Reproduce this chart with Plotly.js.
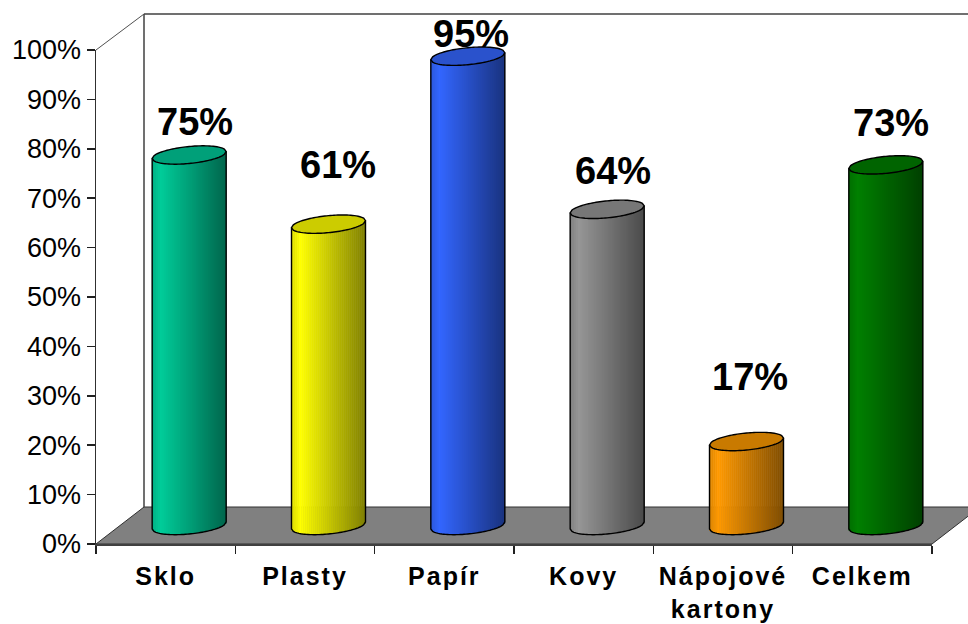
<!DOCTYPE html>
<html><head><meta charset="utf-8">
<script src="https://cdn.plot.ly/plotly-3.0.1.min.js"></script>
<style>
html,body{margin:0;padding:0;background:#fff;overflow:hidden}
.xtick text{letter-spacing:2px}
</style></head><body><div id="chart" style="width:968px;height:624px"></div>
<script>
// Data
var categories = ['Sklo','Plasty','Papír','Kovy','Nápojové<br>kartony','Celkem'];
var values = [75,61,95,64,17,73];
var labels = ['75%','61%','95%','64%','17%','73%'];
var bodyColors = [[0,204,153],[255,255,0],[51,102,255],[150,150,150],[255,153,0],[0,128,0]];
var capColors = ['#00a079','#cccc00','#2a52cc','#777777','#c97a00','#006400'];
// Hand placement of value labels, in pixels from the cylinder top
var labelDx = [6,9,3,6,3,5];
var labelDy = [33,59,22,38,65,42];

// Frame geometry (page pixels)
var W=968,H=624, L=96,R=932, Y0=544,Y100=50, DX=48,DY=37, SX=23.5,SY=18.5, BELOW=4;
var px=function(x){return x/W}, py=function(y){return 1-y/H};
var unitY=(Y0-Y100)/100, slot=(R-L)/6;
var A=37/slot, TILT=3.5/unitY, SAG=8.5/unitY, N=37;

function arcLow(u){return TILT*u-SAG*Math.sqrt(Math.max(0,1-u*u));}
function arcHigh(u){return TILT*u+SAG*Math.sqrt(Math.max(0,1-u*u));}
function shade(u){var t=(u+1)/2; return t<0.12 ? 0.86+0.14*t/0.12 : 1-0.5*(t-0.12)/0.88;}
function rgb(c,f){return 'rgb('+c.map(function(v){return Math.round(v*f)}).join(',')+')';}

var traces=[{type:'scatter',mode:'none',x:categories,y:values,xaxis:'x',yaxis:'y',hoverinfo:'skip',showlegend:false}];
for(var s=0;s<N;s++){
  (function(u){
  traces.push({
    type:'bar',xaxis:'x2',yaxis:'y2',showlegend:false,hoverinfo:'skip',
    x:values.map(function(_,i){return i}),
    base:values.map(function(){return arcLow(u)}),
    y:values.map(function(v){return v+TILT*u-arcLow(u)}),
    offset:u*A-A/N-0.002,width:2*A/N+0.004,
    marker:{color:bodyColors.map(function(c){return rgb(c,shade(u))}),opacity:1,line:{width:0}}
  });
  })(-1+(2*s+1)/N);
}

var wallLine='#404040';
var shapes=[
 {type:'path',xref:'paper',yref:'paper',layer:'below',fillcolor:'#808080',line:{color:'#303030',width:1},
  path:'M'+px(L)+','+py(Y0)+' L'+px(L+DX)+','+py(Y0-DY)+' L'+px(R+DX)+','+py(Y0-DY)+' L'+px(R)+','+py(Y0)+' Z'},
 {type:'line',xref:'paper',yref:'paper',layer:'below',x0:px(L+DX),x1:px(L+DX),y0:py(Y0-DY),y1:py(Y100-DY+1),line:{color:wallLine,width:1.5}},
 {type:'line',xref:'paper',yref:'paper',layer:'below',x0:px(L+DX),x1:1,y0:py(Y100-DY+1),y1:py(Y100-DY+1),line:{color:wallLine,width:1.5}},
 {type:'line',xref:'paper',yref:'paper',layer:'below',x0:px(L),x1:px(L+DX),y0:py(Y100),y1:py(Y100-DY+1),line:{color:'#505050',width:1}}
];
values.forEach(function(v,i){
  var k,u,side=[],cap=[];
  side.push('M'+(i-A)+' '+(v-TILT)+' L'+(i-A)+' '+arcLow(-1));
  for(k=0;k<=40;k++){u=-1+k/20; side.push('L'+(i+u*A)+' '+arcLow(u));}
  side.push('L'+(i+A)+' '+(v+TILT));
  shapes.push({type:'path',xref:'x2',yref:'y2',line:{color:'#000',width:1.4},path:side.join(' ')});
  for(k=0;k<=40;k++){u=-1+k/20; cap.push((k?'L':'M')+(i+u*A)+' '+(v+arcHigh(u)));}
  for(k=39;k>0;k--){u=-1+k/20; cap.push('L'+(i+u*A)+' '+(v+arcLow(u)));}
  cap.push('Z');
  shapes.push({type:'path',xref:'x2',yref:'y2',fillcolor:capColors[i],line:{color:'#000',width:1.4},path:cap.join(' ')});
});
var annotations=values.map(function(v,i){return {
  xref:'x2',yref:'y2',x:i,y:v,text:labels[i],showarrow:false,xanchor:'center',yanchor:'middle',
  xshift:labelDx[i],yshift:labelDy[i],
  font:{family:'"Liberation Sans",Arial,sans-serif',size:38,color:'#000',weight:700}
}});
var layout={
  width:W,height:H,margin:{l:0,r:0,t:0,b:0},paper_bgcolor:'#fff',plot_bgcolor:'rgba(0,0,0,0)',
  showlegend:false,barmode:'overlay',shapes:shapes,annotations:annotations,
  font:{family:'"Liberation Sans",Arial,sans-serif',color:'#000'},
  xaxis:{type:'category',categoryorder:'array',categoryarray:categories,domain:[px(L),px(R)],range:[-0.5,5.5],anchor:'y',
    tickson:'boundaries',ticks:'outside',ticklen:8,tickcolor:'#202020',tickwidth:1.5,showgrid:false,zeroline:false,
    showline:true,linecolor:'#404040',linewidth:2,tickfont:{size:25,color:'#000',weight:700},tickangle:0,ticklabelstandoff:9},
  yaxis:{domain:[py(Y0),py(Y100)],range:[0,100],anchor:'x',dtick:10,tick0:0,ticksuffix:'%',ticks:'outside',ticklen:8,
    tickcolor:'#202020',tickwidth:1.5,showgrid:false,zeroline:false,showline:true,linecolor:'#303030',linewidth:1.5,
    tickfont:{size:27,color:'#000'}},
  xaxis2:{domain:[px(L+SX),px(R+SX)],range:[-0.5,5.5],anchor:'y2',visible:false},
  yaxis2:{domain:[py(Y0-SY+BELOW*unitY),py(Y100-SY)],range:[-BELOW,100],anchor:'x2',visible:false}
};
Plotly.newPlot('chart',traces,layout,{displayModeBar:false,staticPlot:true});
</script></body></html>
